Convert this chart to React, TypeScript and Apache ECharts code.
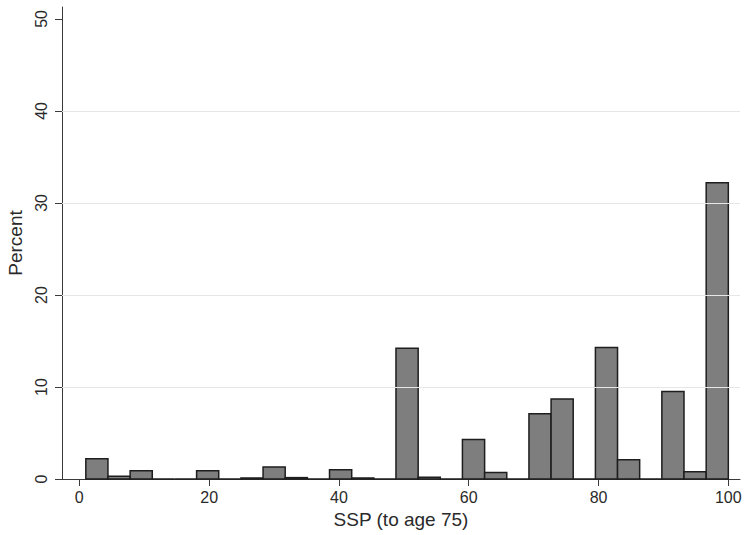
import React, { useEffect, useRef } from "react";
import * as echarts from "echarts";

// Histogram bin edges (SSP, to age 75) and percent per bin
const binStarts = [1.0, 4.41, 7.83, 11.24, 14.66, 18.07, 21.48, 24.9, 28.31, 31.72, 35.14, 38.55, 41.97, 45.38, 48.79, 52.21, 55.62, 59.03, 62.45, 65.86, 69.28, 72.69, 76.1, 79.52, 82.93, 86.34, 89.76, 93.17, 96.59];
const binEnds = [4.41, 7.83, 11.24, 14.66, 18.07, 21.48, 24.9, 28.31, 31.72, 35.14, 38.55, 41.97, 45.38, 48.79, 52.21, 55.62, 59.03, 62.45, 65.86, 69.28, 72.69, 76.1, 79.52, 82.93, 86.34, 89.76, 93.17, 96.59, 100.0];
const percents = [2.2, 0.3, 0.9, 0, 0, 0.9, 0, 0.1, 1.3, 0.15, 0, 1.0, 0.1, 0, 14.2, 0.2, 0, 4.3, 0.7, 0, 7.1, 8.7, 0, 14.3, 2.1, 0, 9.5, 0.8, 32.2];
const xTicks = [0, 20, 40, 60, 80, 100];
const gridValues = [10, 20, 30, 40];

const FONT = "'Liberation Sans', Arial, sans-serif";

export default function App() {
  const ref = useRef<HTMLDivElement>(null);
  useEffect(() => {
    if (!ref.current) return;
    const chart = echarts.init(ref.current, null, { renderer: "svg" });
    const data = binStarts.map((s, i) => [s, binEnds[i], percents[i]]);
    chart.setOption({
      animation: false,
      backgroundColor: "#ffffff",
      grid: { left: 62, right: 6, top: 7, bottom: 56, containLabel: false, outerBoundsMode: "none" },
      xAxis: {
        type: "value",
        min: -2.67,
        max: 101.8,
        name: "SSP (to age 75)",
        nameLocation: "middle",
        nameGap: 26,
        nameTextStyle: { fontFamily: FONT, fontSize: 19, color: "#2a2a2a" },
        axisLine: { show: true, onZero: false, lineStyle: { color: "#3a3a3a", width: 1 } },
        axisTick: { show: true, length: 7, customValues: xTicks, lineStyle: { color: "#3a3a3a" } },
        axisLabel: { show: true, customValues: xTicks, margin: 10, fontFamily: FONT, fontSize: 16, color: "#2a2a2a" },
        splitLine: { show: false },
      },
      yAxis: {
        type: "value",
        min: 0,
        max: 51.3,
        interval: 10,
        name: "Percent",
        nameLocation: "middle",
        nameGap: 25,
        nameTextStyle: { fontFamily: FONT, fontSize: 19, color: "#2a2a2a" },
        axisLine: { show: true, onZero: false, lineStyle: { color: "#3a3a3a", width: 1 } },
        axisTick: { show: true, length: 7, lineStyle: { color: "#3a3a3a" } },
        axisLabel: { rotate: 90, margin: 13, fontFamily: FONT, fontSize: 16, color: "#2a2a2a" },
        splitLine: { show: false },
      },
      series: [
        {
          type: "line",
          data: [],
          z: 1,
          markLine: {
            silent: true,
            symbol: "none",
            label: { show: false },
            lineStyle: { color: "#e6e6e6", type: "solid", width: 1 },
            data: gridValues.map((v) => ({ yAxis: v })),
          },
        },
        {
          type: "custom",
          z: 3,
          data,
          encode: { x: [0, 1], y: 2 },
          renderItem: (params: any, api: any) => {
            const p0 = api.coord([api.value(0), 0]);
            const p1 = api.coord([api.value(1), api.value(2)]);
            return {
              type: "rect",
              shape: { x: p0[0], y: p1[1], width: p1[0] - p0[0], height: p0[1] - p1[1] },
              style: { fill: "#7e7e7e", stroke: "#1e1e1e", lineWidth: 1.5 },
            };
          },
        },
      ],
    });
    return () => chart.dispose();
  }, []);
  return <div ref={ref} style={{ position: "absolute", left: 0, top: 0, width: 746, height: 535 }} />;
}
